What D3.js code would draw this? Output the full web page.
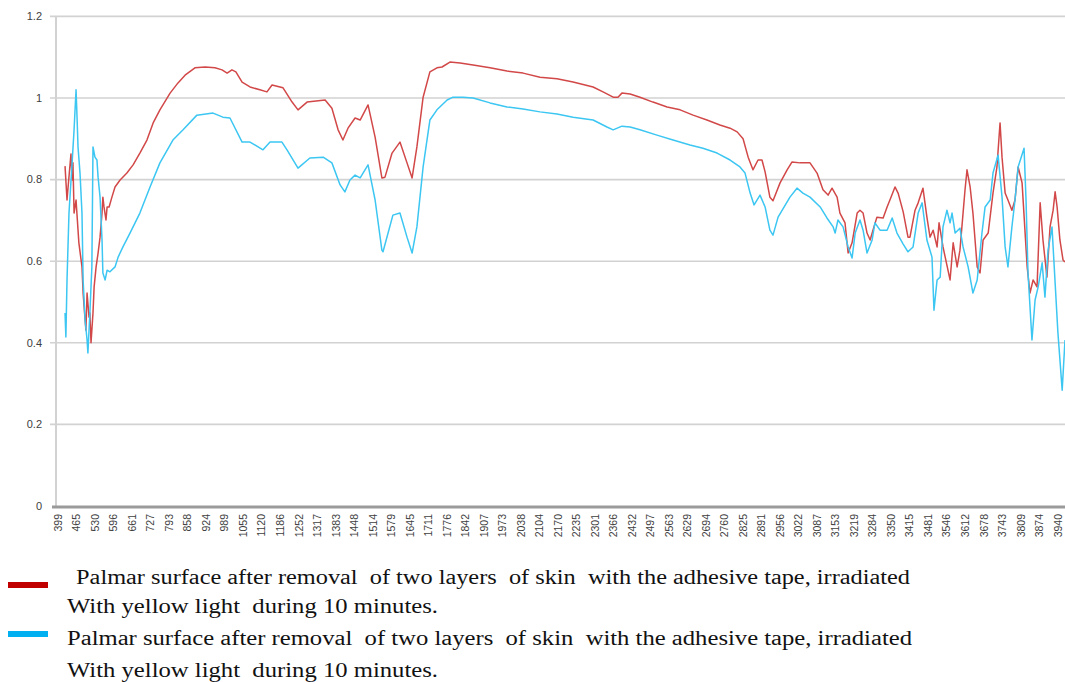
<!DOCTYPE html>
<html><head><meta charset="utf-8">
<script src="https://cdn.jsdelivr.net/npm/d3@7"></script>
<style>body{margin:0;background:#fff}svg{display:block}</style>
</head><body>
<svg id="c" width="1065" height="682"></svg>
<script>
const xTickLabels = [399,465,530,596,661,727,793,858,924,989,1055,1120,1186,1252,1317,1383,1448,1514,1579,1645,1711,1776,1842,1907,1973,2038,2104,2170,2235,2301,2366,2432,2497,2563,2629,2694,2760,2825,2891,2956,3022,3087,3153,3219,3284,3350,3415,3481,3546,3612,3678,3743,3809,3874,3940];
const yTicks = [0,0.2,0.4,0.6,0.8,1,1.2];

const redWave = [424,431,434,445,449,452,456,463,466,473,484,488,495,498,502,509,512,516,523,527,534,541,548,555,558,562,569,573,580,590,601,619,643,665,689,714,736,760,796,824,849,884,920,955,980,998,1015,1029,1051,1079,1114,1139,1157,1196,1228,1249,1281,1345,1369,1391,1408,1426,1451,1469,1497,1522,1546,1557,1582,1610,1635,1653,1670,1692,1716,1741,1759,1787,1823,1869,1929,1989,2046,2106,2166,2223,2294,2329,2365,2382,2396,2425,2460,2506,2556,2602,2648,2697,2743,2779,2804,2825,2843,2860,2878,2892,2903,2920,2931,2956,2981,2998,3027,3062,3087,3108,3126,3140,3158,3168,3186,3197,3211,3229,3239,3250,3264,3275,3285,3299,3321,3335,3345,3363,3374,3392,3409,3416,3434,3445,3462,3476,3487,3498,3512,3519,3533,3558,3569,3583,3593,3611,3618,3629,3639,3654,3664,3675,3693,3710,3724,3735,3742,3753,3763,3777,3788,3799,3813,3831,3841,3852,3866,3877,3887,3901,3912,3923,3930,3937,3947,3958,3965];
const redValues = [0.833,0.750,0.775,0.863,0.799,0.841,0.718,0.750,0.718,0.645,0.586,0.522,0.456,0.431,0.522,0.463,0.473,0.400,0.473,0.537,0.586,0.620,0.659,0.718,0.757,0.733,0.701,0.733,0.733,0.757,0.782,0.799,0.816,0.836,0.865,0.897,0.939,0.971,1.012,1.037,1.056,1.074,1.076,1.074,1.069,1.061,1.069,1.064,1.039,1.027,1.020,1.015,1.032,1.025,0.990,0.971,0.990,0.995,0.975,0.922,0.897,0.926,0.951,0.946,0.983,0.904,0.804,0.806,0.865,0.892,0.841,0.804,0.880,1.002,1.064,1.074,1.076,1.088,1.086,1.081,1.074,1.066,1.061,1.051,1.047,1.039,1.027,1.015,1.002,1.002,1.012,1.010,1.002,0.990,0.978,0.971,0.958,0.946,0.934,0.926,0.917,0.900,0.855,0.824,0.848,0.848,0.819,0.757,0.748,0.792,0.824,0.843,0.841,0.841,0.816,0.775,0.762,0.779,0.757,0.718,0.694,0.620,0.645,0.718,0.725,0.718,0.669,0.652,0.676,0.708,0.706,0.733,0.750,0.782,0.767,0.721,0.659,0.659,0.725,0.743,0.779,0.708,0.659,0.676,0.635,0.694,0.635,0.554,0.645,0.586,0.627,0.775,0.824,0.782,0.718,0.586,0.571,0.652,0.669,0.767,0.831,0.939,0.855,0.767,0.750,0.725,0.750,0.831,0.792,0.586,0.522,0.554,0.537,0.743,0.652,0.561,0.684,0.725,0.770,0.733,0.652,0.603,0.598];

const blueWave = [424,427,431,438,449,456,463,466,470,477,484,488,495,502,505,512,519,523,530,537,541,548,555,558,566,573,583,601,612,629,654,689,725,760,806,842,891,948,983,1008,1051,1079,1125,1150,1192,1210,1249,1291,1338,1369,1398,1415,1433,1451,1469,1497,1522,1546,1550,1585,1610,1635,1653,1670,1692,1716,1741,1777,1798,1833,1869,1929,1989,2046,2106,2166,2223,2294,2343,2365,2396,2425,2460,2520,2577,2637,2683,2733,2779,2814,2832,2850,2864,2885,2903,2920,2931,2949,2991,3016,3037,3062,3098,3122,3144,3151,3161,3179,3197,3211,3222,3239,3250,3264,3282,3292,3310,3335,3353,3370,3392,3409,3427,3445,3459,3476,3494,3501,3512,3523,3533,3547,3558,3565,3576,3593,3604,3622,3639,3654,3671,3682,3700,3710,3728,3742,3753,3763,3777,3788,3799,3820,3827,3834,3848,3859,3870,3884,3894,3905,3919,3930,3940,3955,3965];
const blueValues = [0.473,0.414,0.554,0.718,0.841,0.922,1.020,0.963,0.880,0.816,0.718,0.554,0.456,0.407,0.375,0.473,0.586,0.880,0.855,0.848,0.806,0.757,0.652,0.571,0.554,0.578,0.574,0.586,0.610,0.635,0.669,0.718,0.782,0.841,0.897,0.922,0.958,0.963,0.953,0.951,0.892,0.892,0.873,0.892,0.892,0.873,0.828,0.853,0.855,0.841,0.787,0.770,0.799,0.811,0.804,0.836,0.750,0.627,0.623,0.713,0.718,0.659,0.620,0.684,0.831,0.946,0.971,0.995,1.002,1.002,1.000,0.988,0.978,0.973,0.966,0.961,0.953,0.946,0.929,0.922,0.931,0.929,0.922,0.909,0.897,0.885,0.877,0.865,0.848,0.831,0.816,0.767,0.738,0.762,0.733,0.676,0.664,0.708,0.757,0.779,0.767,0.757,0.733,0.706,0.684,0.669,0.701,0.684,0.635,0.608,0.669,0.701,0.676,0.620,0.652,0.694,0.676,0.676,0.706,0.669,0.642,0.623,0.635,0.718,0.743,0.652,0.610,0.480,0.554,0.561,0.684,0.725,0.694,0.718,0.669,0.681,0.635,0.586,0.522,0.554,0.669,0.733,0.750,0.816,0.860,0.757,0.635,0.586,0.684,0.750,0.831,0.877,0.750,0.571,0.407,0.505,0.537,0.596,0.512,0.627,0.684,0.547,0.424,0.284,0.407];

const legendLabels = [
  [" Palmar surface after removal  of two layers  of skin  with the adhesive tape, irradiated", "With yellow light  during 10 minutes."],
  ["Palmar surface after removal  of two layers  of skin  with the adhesive tape, irradiated", "With yellow light  during 10 minutes."]
];
const seriesColors = ["#d24848", "#3cc6f2"];
const swatchColors = ["#c00000", "#00b0f0"];

const svg = d3.select("#c");
svg.append("rect").attr("width",1065).attr("height",682).attr("fill","#fff");

const x = d3.scaleLinear().domain([392,3965]).range([56,1065]);
const y = d3.scaleLinear().domain([0,1.2]).range([506,16.4]);

// gridlines
svg.append("g").selectAll("line").data(yTicks.filter(d=>d>0)).join("line")
  .attr("x1",50).attr("x2",1065).attr("y1",d=>y(d)).attr("y2",d=>y(d))
  .attr("stroke","#d2d2d2").attr("stroke-width",1.6);
// left axis line
svg.append("line").attr("x1",56).attr("x2",56).attr("y1",y(1.2)).attr("y2",506)
  .attr("stroke","#d2d2d2").attr("stroke-width",2);

// y labels
svg.append("g").selectAll("text").data(yTicks).join("text")
  .attr("x",42).attr("y",d=>y(d)).attr("dy","0.35em").attr("text-anchor","end")
  .attr("font-family","Liberation Sans, Arial, sans-serif").attr("font-size",11)
  .attr("fill","#404040").text(d=>d===0?"0":String(d));

// series
const line = d3.line().x(d=>x(d[0])).y(d=>y(d[1]));
const seriesData = [
  d3.zip(redWave, redValues),
  d3.zip(blueWave, blueValues)
];
svg.append("g").selectAll("path").data(seriesData).join("path")
  .attr("d",line).attr("fill","none")
  .attr("stroke",(d,i)=>seriesColors[i]).attr("stroke-width",1.5)
  .attr("stroke-linejoin","round");

// bottom axis
svg.append("line").attr("x1",52).attr("x2",1065).attr("y1",507).attr("y2",507)
  .attr("stroke","#9a9a9a").attr("stroke-width",3);

// x labels
svg.append("g").selectAll("text").data(xTickLabels).join("text")
  .attr("transform",d=>`translate(${x(d)},514) rotate(-90)`)
  .attr("dy","0.35em").attr("text-anchor","end")
  .attr("font-family","Liberation Sans, Arial, sans-serif").attr("font-size",10.5)
  .attr("fill","#404040").text(d=>d);

// legend
const lg = svg.append("g");
const rows = [{sy:585, t1:577, t2:606}, {sy:634, t1:638, t2:670}];
legendLabels.forEach((lab,i)=>{
  const r = rows[i];
  lg.append("rect").attr("x",8).attr("y",r.sy-3).attr("width",40).attr("height",6)
    .attr("fill",swatchColors[i]);
  lg.append("text").attr("x",i===0?70:67).attr("y",r.t1).attr("dy","0.35em")
    .attr("font-family","Liberation Serif, Times New Roman, serif").attr("font-size",20)
    .attr("fill","#111").attr("xml:space","preserve").style("white-space","pre")
    .attr("textLength",i===0?840:845).attr("lengthAdjust","spacingAndGlyphs").text(lab[0]);
  lg.append("text").attr("x",67).attr("y",r.t2).attr("dy","0.35em")
    .attr("font-family","Liberation Serif, Times New Roman, serif").attr("font-size",20)
    .attr("fill","#111").style("white-space","pre")
    .attr("textLength",371).attr("lengthAdjust","spacingAndGlyphs").text(lab[1]);
});
</script>
</body></html>
